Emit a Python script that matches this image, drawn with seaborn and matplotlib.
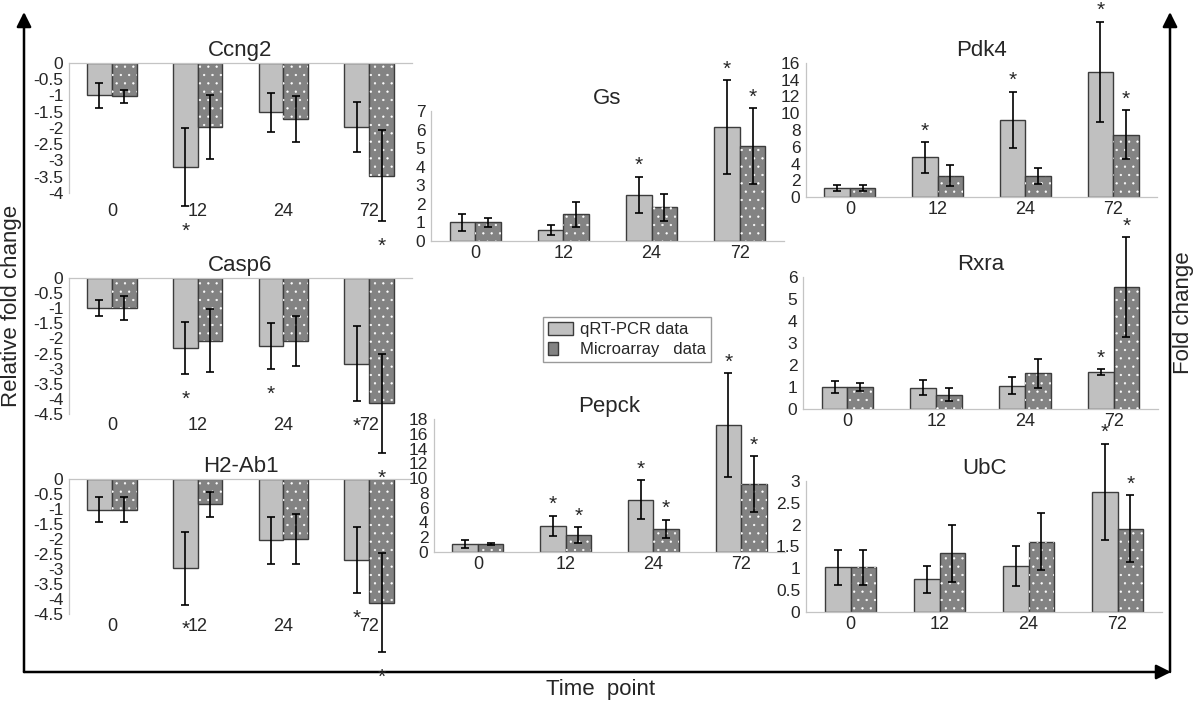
import pandas as pd
import numpy as np
import matplotlib
matplotlib.use('Agg')
import matplotlib.pyplot as plt
import seaborn as sns
from matplotlib.patches import Rectangle, Patch
from matplotlib.legend_handler import HandlerTuple
from matplotlib.ticker import FuncFormatter

# 时间点和两种数据
times = ['0', '12', '24', '72']
series = ['qRT-PCR data', 'Microarray   data']

# Ccng2 (下调, 相对倍数变化)
ccng2_qrt = [-1.0, -3.2, -1.52, -1.97]
ccng2_qrt_err = [0.37, 1.2, 0.61, 0.78]
ccng2_mic = [-1.02, -1.97, -1.73, -3.47]
ccng2_mic_err = [0.2, 0.97, 0.7, 1.4]
ccng2_stars = [(1, 0), (3, 1)]   # (时间点序号, 数据序号)

# Casp6
casp6_qrt = [-1.0, -2.32, -2.25, -2.83]
casp6_qrt_err = [0.27, 0.85, 0.76, 1.25]
casp6_mic = [-1.0, -2.08, -2.08, -4.15]
casp6_mic_err = [0.39, 1.04, 0.82, 1.65]
casp6_stars = [(1, 0), (2, 0), (3, 0), (3, 1)]

# H2-Ab1
h2_qrt = [-1.02, -2.97, -2.04, -2.71]
h2_qrt_err = [0.41, 1.22, 0.79, 1.1]
h2_mic = [-1.02, -0.84, -2.0, -4.12]
h2_mic_err = [0.41, 0.42, 0.84, 1.65]
h2_stars = [(1, 0), (3, 0), (3, 1)]

# Gs (上调, 倍数变化)
gs_qrt = [1.0, 0.59, 2.5, 6.14]
gs_qrt_err = [0.45, 0.25, 0.97, 2.52]
gs_mic = [1.0, 1.43, 1.81, 5.12]
gs_mic_err = [0.25, 0.68, 0.74, 2.03]
gs_stars = [(2, 0), (3, 0), (3, 1)]

# Pepck
pepck_qrt = [1.09, 3.53, 7.1, 17.2]
pepck_qrt_err = [0.5, 1.4, 2.65, 7.0]
pepck_mic = [1.09, 2.26, 3.12, 9.23]
pepck_mic_err = [0.15, 1.1, 1.27, 3.75]
pepck_stars = [(1, 0), (1, 1), (2, 0), (2, 1), (3, 0), (3, 1)]

# Pdk4
pdk4_qrt = [1.08, 4.72, 9.2, 14.96]
pdk4_qrt_err = [0.4, 1.82, 3.38, 5.96]
pdk4_mic = [1.08, 2.56, 2.48, 7.44]
pdk4_mic_err = [0.4, 1.26, 0.96, 2.96]
pdk4_stars = [(1, 0), (2, 0), (3, 0), (3, 1)]

# Rxra
rxra_qrt = [1.01, 0.97, 1.06, 1.68]
rxra_qrt_err = [0.27, 0.35, 0.4, 0.14]
rxra_mic = [1.01, 0.65, 1.62, 5.54]
rxra_mic_err = [0.18, 0.3, 0.66, 2.27]
rxra_stars = [(3, 0), (3, 1)]

# UbC
ubc_qrt = [1.02, 0.75, 1.06, 2.75]
ubc_qrt_err = [0.41, 0.31, 0.46, 1.1]
ubc_mic = [1.02, 1.34, 1.61, 1.91]
ubc_mic_err = [0.41, 0.66, 0.65, 0.76]
ubc_stars = [(3, 0), (3, 1)]

# 颜色
qrt_color = '#c0c0c0'
mic_color = '#838383'
edge_color = '#3c3c3c'
spine_color = '#c4c4c4'

sns.set_theme(style='white')
plt.rcParams['font.family'] = ['Liberation Sans', 'DejaVu Sans']
plt.rcParams['hatch.linewidth'] = 0.4

W, H = 1200, 701
fig = plt.figure(figsize=(12, 7.01), dpi=100)


def px_box(x0, y0, x1, y1):
    # 像素坐标 -> figure坐标
    return [x0 / W, 1 - y1 / H, (x1 - x0) / W, (y1 - y0) / H]


def draw_panel(box, name, qrt, qrt_err, mic, mic_err, stars, ylim, ystep, xpad):
    ax = fig.add_axes(px_box(*box))
    neg = ylim[0] < 0
    df = pd.DataFrame({'time': times * 2,
                       'value': qrt + mic,
                       'series': [series[0]] * 4 + [series[1]] * 4})
    sns.barplot(data=df, x='time', y='value', hue='series', order=times,
                hue_order=series, palette=[qrt_color, mic_color], saturation=1,
                width=0.58, errorbar=None, edgecolor=edge_color, linewidth=1,
                legend=False, ax=ax)
    bars = list(ax.containers[:2])

    # 微阵列数据的白点
    for b in bars[1]:
        ax.add_patch(Rectangle(b.get_xy(), b.get_width(), b.get_height(),
                               fill=False, hatch='..', edgecolor='white',
                               linewidth=0, zorder=3))

    # 误差线和星号
    vals = [qrt, mic]
    errs = [qrt_err, mic_err]
    for k, cont in enumerate(bars):
        xs = [b.get_x() + b.get_width() / 2 for b in cont]
        eb = ax.errorbar(xs, vals[k], yerr=errs[k], fmt='none', ecolor='black',
                         elinewidth=1.2, capsize=3, capthick=1.2, zorder=4)
        for a in list(eb.lines[1]) + list(eb.lines[2]):
            a.set_clip_on(False)
    for i, k in stars:
        x = bars[k][i].get_x() + bars[k][i].get_width() / 2
        v = vals[k][i]
        if v < 0:
            y, dy = v - errs[k][i], -22
        else:
            y, dy = v + errs[k][i], 4
        ax.annotate('*', (x, y), xytext=(0, dy), textcoords='offset points',
                    ha='center', va='baseline', fontsize=15, annotation_clip=False)

    ax.set_xlim(-0.5, 3.5)
    ax.set_ylim(*ylim)
    if neg:
        ax.set_yticks(np.arange(0, ylim[0] - 0.01, -ystep))
    else:
        ax.set_yticks(np.arange(0, ylim[1] + 0.01, ystep))
    ax.yaxis.set_major_formatter(FuncFormatter(lambda v, p: '%g' % v))
    # 负值图的横轴在上方(0处), 标签仍在下方
    ax.spines['right'].set_visible(False)
    ax.spines['top'].set_visible(neg)
    ax.spines['bottom'].set_visible(not neg)
    ax.xaxis.tick_bottom()
    for s in ax.spines.values():
        s.set_color(spine_color)
        s.set_linewidth(0.9)
    ax.tick_params(axis='y', length=3, width=0.8, color=spine_color,
                   labelsize=12.5, pad=1)
    ax.tick_params(axis='x', length=0, labelsize=13, pad=xpad)
    ax.set_xlabel('')
    ax.set_ylabel('')
    ax.set_title(name, fontsize=16, pad=5)
    return ax


# 左列: 相对倍数变化
draw_panel((69, 63, 412, 193), 'Ccng2', ccng2_qrt, ccng2_qrt_err, ccng2_mic, ccng2_mic_err,
           ccng2_stars, (-4, 0), 0.5, 7)
draw_panel((69, 278, 412, 414), 'Casp6', casp6_qrt, casp6_qrt_err, casp6_mic, casp6_mic_err,
           casp6_stars, (-4.5, 0), 0.5, 2)
draw_panel((69, 479, 412, 614), 'H2-Ab1', h2_qrt, h2_qrt_err, h2_mic, h2_mic_err,
           h2_stars, (-4.5, 0), 0.5, 3)
# 中列
draw_panel((431, 111, 784, 241), 'Gs', gs_qrt, gs_qrt_err, gs_mic, gs_mic_err,
           gs_stars, (0, 7), 1, 3)
draw_panel((434, 419, 785, 552), 'Pepck', pepck_qrt, pepck_qrt_err, pepck_mic, pepck_mic_err,
           pepck_stars, (0, 18), 2, 3)
# 右列
draw_panel((806, 63, 1157, 197), 'Pdk4', pdk4_qrt, pdk4_qrt_err, pdk4_mic, pdk4_mic_err,
           pdk4_stars, (0, 16), 2, 3)
draw_panel((803, 277, 1158, 409), 'Rxra', rxra_qrt, rxra_qrt_err, rxra_mic, rxra_mic_err,
           rxra_stars, (0, 6), 1, 3)
draw_panel((806, 481, 1162, 612), 'UbC', ubc_qrt, ubc_qrt_err, ubc_mic, ubc_mic_err,
           ubc_stars, (0, 3), 0.5, 3)

# 外框箭头和坐标轴名称
frame = fig.add_axes([0, 0, 1, 1], zorder=-1)
frame.set_xlim(0, W)
frame.set_ylim(H, 0)
frame.axis('off')
arrow = dict(arrowstyle='-|>', lw=1.8, color='black', mutation_scale=22, shrinkA=0, shrinkB=0)
frame.annotate('', xy=(24, 12), xytext=(24, 672), arrowprops=arrow)
frame.annotate('', xy=(1171, 672), xytext=(24, 672), arrowprops=arrow)
frame.annotate('', xy=(1170, 12), xytext=(1170, 672), arrowprops=arrow)
frame.text(12, 306, 'Relative fold change', rotation=90, ha='center', va='center', fontsize=16)
frame.text(1184, 313, 'Fold change', rotation=90, ha='center', va='center', fontsize=16)
frame.text(601, 689, 'Time  point', ha='center', va='center', fontsize=16)

# 图例
h_qrt = Patch(facecolor=qrt_color, edgecolor=edge_color, linewidth=1)
h_mic = (Patch(facecolor=mic_color, edgecolor=edge_color, linewidth=1),
         Patch(facecolor='none', edgecolor='white', hatch='..', linewidth=0))
fig.legend([h_qrt, h_mic], series, loc='upper left',
           bbox_to_anchor=(543 / W, 1 - 317 / H), fontsize=12, frameon=True,
           fancybox=False, edgecolor='#9a9a9a', framealpha=1, borderpad=0.3,
           labelspacing=0.25, handlelength=1.5, handleheight=0.85, handletextpad=0.4,
           borderaxespad=0, handler_map={tuple: HandlerTuple(ndivide=None)})

plt.savefig('out.png', dpi=100)
